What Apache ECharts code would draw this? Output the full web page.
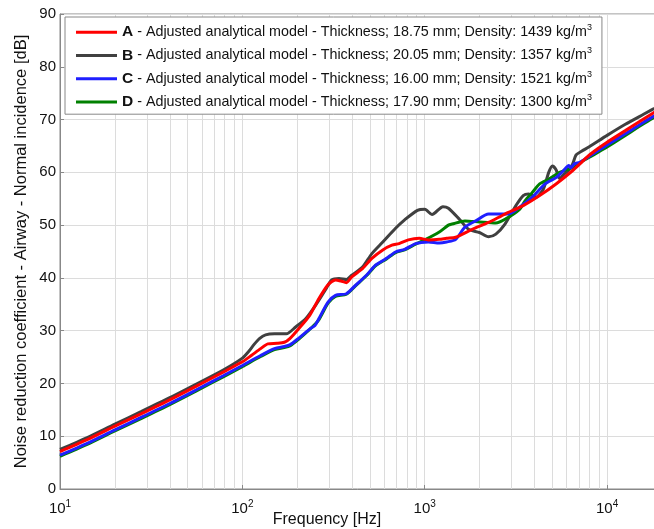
<!DOCTYPE html>
<html>
<head>
<meta charset="utf-8">
<script src="https://cdn.jsdelivr.net/npm/echarts@6/dist/echarts.min.js"></script>
<style>
  html, body { margin: 0; padding: 0; background: #fff; }
  #chart { width: 654px; height: 529px; }
</style>
</head>
<body>
<div id="chart"></div>
<script>
// frequency [Hz] / noise reduction [dB]
var freqA = [10, 14, 20, 28, 40, 56, 79, 100, 112, 126, 138, 155, 170, 182, 204, 234, 263, 295, 324, 347, 372, 398, 457, 513, 589, 661, 724, 813, 933, 1047, 1202, 1318, 1479, 1820, 2239, 2754, 3467, 4266, 5248, 6457, 7244, 7943, 8913, 10000, 12589, 15849, 20000];
var nrA   = [7.1, 9.3, 11.9, 14.3, 16.9, 19.5, 22.2, 24.1, 25.3, 26.6, 27.5, 27.6, 27.8, 28.5, 30.4, 32.9, 36.1, 38.7, 39.6, 39.4, 39.1, 40.2, 41.8, 43.7, 45.3, 46.2, 46.5, 47.2, 47.5, 47.2, 47.3, 47.5, 47.7, 49.2, 50.5, 52.1, 53.7, 55.6, 57.8, 60.3, 61.9, 63.2, 64.5, 65.7, 67.9, 70.1, 72.3];

var freqB = [10, 14, 20, 28, 40, 56, 79, 100, 108, 116, 124, 134, 150, 174, 196, 223, 252, 285, 309, 339, 372, 398, 457, 513, 589, 692, 776, 912, 1000, 1096, 1259, 1349, 1549, 1738, 1995, 2239, 2455, 2754, 3162, 3467, 3715, 4074, 4467, 4786, 5012, 5248, 5495, 5754, 6166, 6457, 6761, 7244, 7943, 10000, 12589, 15849, 20000];
var nrB   = [7.5, 9.7, 12.3, 14.7, 17.3, 19.9, 22.6, 24.8, 26.0, 27.4, 28.5, 29.2, 29.4, 29.4, 30.7, 32.3, 34.8, 37.7, 39.6, 39.9, 39.7, 40.5, 42.1, 44.6, 46.8, 49.4, 51.0, 52.8, 53.0, 52.0, 53.5, 53.2, 51.1, 49.2, 48.6, 47.8, 48.3, 50.2, 53.7, 55.6, 55.9, 55.3, 56.8, 60.0, 61.2, 60.5, 58.8, 59.5, 60.5, 61.5, 63.3, 64.0, 64.8, 67.0, 69.1, 71.0, 72.9];

var freqC = [10, 14, 20, 28, 40, 56, 79, 100, 126, 150, 170, 182, 204, 234, 250, 263, 295, 324, 372, 417, 479, 537, 617, 692, 776, 891, 1047, 1202, 1318, 1479, 1660, 1905, 2239, 2570, 2884, 3311, 3890, 4571, 5248, 5754, 6166, 6310, 6607, 7079, 7943, 10000, 12589, 15849, 20000];
var nrC   = [6.4, 8.6, 11.2, 13.6, 16.2, 18.8, 21.5, 23.4, 25.3, 26.6, 27.0, 27.3, 28.6, 30.3, 31.0, 32.3, 35.4, 36.7, 37.0, 38.6, 40.5, 42.4, 43.7, 44.9, 45.4, 46.5, 46.8, 46.6, 46.8, 47.3, 49.6, 50.8, 52.1, 52.1, 52.1, 53.4, 55.3, 57.8, 59.0, 60.3, 61.3, 60.8, 61.6, 61.9, 63.0, 65.2, 67.3, 69.5, 71.6];

var freqD = [10, 14, 20, 28, 40, 56, 79, 100, 126, 150, 170, 182, 204, 240, 263, 295, 324, 372, 417, 479, 537, 617, 692, 776, 891, 1000, 1202, 1349, 1413, 1660, 1995, 2455, 2754, 3311, 3548, 3890, 4266, 4786, 5495, 6026, 6607, 7244, 7943, 10000, 12589, 15849, 20000];
var nrD   = [6.2, 8.4, 11.0, 13.4, 16.0, 18.6, 21.3, 23.2, 25.1, 26.4, 26.8, 27.1, 28.4, 30.6, 32.1, 35.2, 36.5, 36.9, 38.5, 40.4, 42.3, 43.6, 44.8, 45.3, 46.4, 47.2, 48.7, 50.0, 50.2, 50.8, 50.6, 50.4, 51.1, 53.0, 54.6, 56.2, 57.8, 58.7, 60.0, 60.5, 61.0, 62.0, 62.8, 64.8, 67.0, 69.2, 71.3];

var names = ['A', 'B', 'C', 'D'];
var thickness = ['18.75', '20.05', '16.00', '17.90'];
var density = ['1439', '1357', '1521', '1300'];
var colors = ['#ff0000', '#404040', '#1f1fff', '#008000'];

function pairs(f, v) {
  var out = [];
  for (var i = 0; i < f.length; i++) out.push([f[i], v[i]]);
  return out;
}

// minor log grid lines (2..9 x 10^n)
var minorLines = [];
for (var n = 1; n <= 4; n++) {
  for (var k = 2; k <= 9; k++) {
    var v = k * Math.pow(10, n);
    if (v < 20000) minorLines.push({ xAxis: v });
  }
}

var FONT = 'Liberation Sans, Arial, sans-serif';
var chart = echarts.init(document.getElementById('chart'));

var allData = [[freqA, nrA], [freqB, nrB], [freqC, nrC], [freqD, nrD]];
var zs = [5, 2, 4, 3];
var series = allData.map(function (d, i) {
  var s = {
    name: names[i],
    type: 'line',
    data: pairs(d[0], d[1]),
    showSymbol: false,
    smooth: 0.25,
    z: zs[i],
    lineStyle: { color: colors[i], width: 3 },
    itemStyle: { color: colors[i] }
  };
  if (i === 1) {
    s.markLine = {
      silent: true,
      symbol: 'none',
      label: { show: false },
      lineStyle: { color: '#dcdcdc', width: 1, type: 'solid' },
      z: 1,
      data: minorLines
    };
  }
  return s;
});

var option = {
  animation: false,
  backgroundColor: '#fff',
  textStyle: { fontFamily: FONT },
  grid: {
    left: 60, top: 14, right: -8, bottom: 40,
    outerBoundsMode: 'none', containLabel: false,
    show: true, borderColor: '#888', borderWidth: 1
  },
  legend: {
    orient: 'vertical',
    left: 65,
    top: 17,
    backgroundColor: '#fff',
    borderColor: '#888',
    borderWidth: 1,
    borderRadius: 0,
    padding: [6, 10, 3, 11],
    itemGap: 5,
    itemWidth: 41,
    itemHeight: 3,
    icon: 'rect',
    data: names,
    formatter: function (name) {
      var i = names.indexOf(name);
      return '{b|' + name + '} - Adjusted analytical model - Thickness; ' + thickness[i] +
        ' mm; Density: ' + density[i] + ' kg/m{s|3}';
    },
    textStyle: {
      fontFamily: FONT, fontSize: 14.3, color: '#111', lineHeight: 18.3,
      rich: {
        b: { fontFamily: FONT, fontSize: 15.5, fontWeight: 'bold', color: '#111', lineHeight: 18.3 },
        s: { fontFamily: FONT, fontSize: 9, color: '#111', verticalAlign: 'top', lineHeight: 18.3 }
      }
    }
  },
  xAxis: {
    type: 'log',
    logBase: 10,
    min: 10,
    max: 20000,
    name: 'Frequency [Hz]',
    nameLocation: 'middle',
    nameGap: 23,
    nameMoveOverlap: false,
    nameTextStyle: { fontFamily: FONT, fontSize: 16, color: '#111', padding: [0, 68, 0, 0] },
    axisLine: { lineStyle: { color: '#888', width: 1 } },
    axisTick: { inside: true, length: 4, lineStyle: { color: '#888' } },
    splitLine: { show: true, lineStyle: { color: '#dcdcdc', width: 1 } },
    axisLabel: {
      margin: 10,
      fontFamily: FONT, fontSize: 15, color: '#111',
      formatter: function (v) {
        var e = Math.log10(v);
        var r = Math.round(e);
        if (Math.abs(e - r) > 1e-6) return '';
        return '{m|10}{s|' + r + '}';
      },
      rich: {
        m: { fontFamily: FONT, fontSize: 15, color: '#111', lineHeight: 19 },
        s: { fontFamily: FONT, fontSize: 10, color: '#111', verticalAlign: 'top', lineHeight: 19 }
      }
    }
  },
  yAxis: {
    type: 'value',
    min: 0,
    max: 90,
    interval: 10,
    name: 'Noise reduction coefficient - Airway - Normal incidence [dB]',
    nameLocation: 'middle',
    nameGap: 30,
    nameMoveOverlap: false,
    nameTextStyle: { fontFamily: FONT, fontSize: 16.5, color: '#111' },
    axisLine: { show: true, lineStyle: { color: '#888', width: 1 } },
    axisTick: { show: true, inside: true, length: 4, lineStyle: { color: '#888' } },
    splitLine: { show: true, lineStyle: { color: '#dcdcdc', width: 1 } },
    axisLabel: { margin: 4, fontFamily: FONT, fontSize: 15, color: '#111' }
  },
  series: series
};

chart.setOption(option);
</script>
</body>
</html>
